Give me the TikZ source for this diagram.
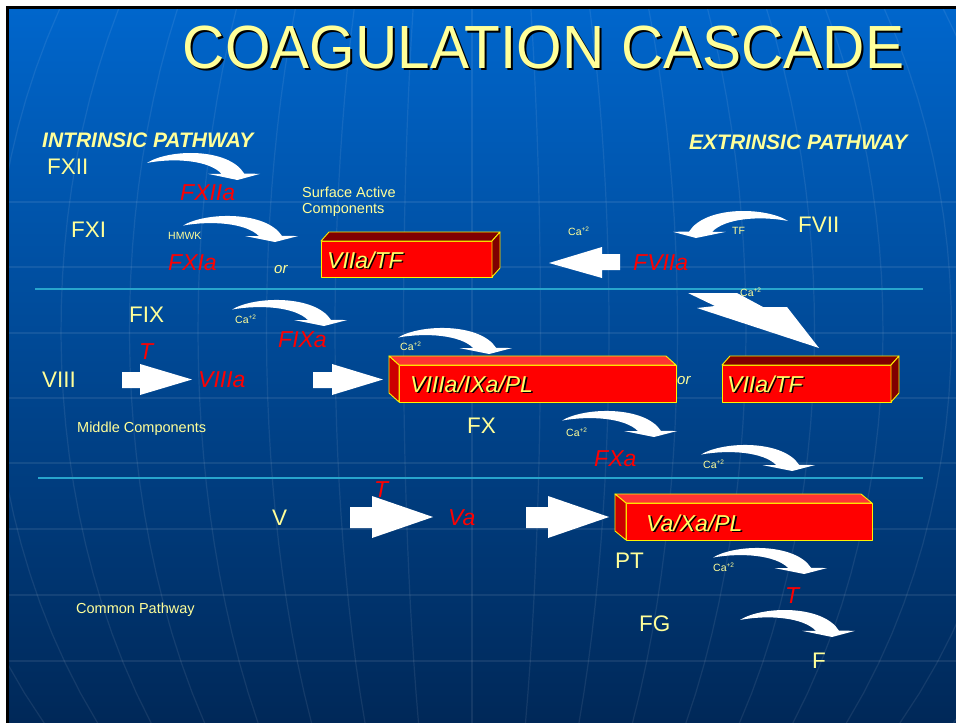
\documentclass[tikz,border=0pt]{standalone}
\usepackage{fontspec}
\setmainfont{Liberation Sans}
\definecolor{ylw}{RGB}{255,255,153}
\definecolor{rd}{RGB}{255,0,0}
\definecolor{boxtxt}{RGB}{255,255,102}
\definecolor{maroonc}{RGB}{128,0,0}
\definecolor{lightred}{RGB}{255,51,51}
\definecolor{sidered}{RGB}{204,0,0}
\definecolor{cyanln}{RGB}{40,165,205}
\definecolor{bgtop}{RGB}{0,102,204}
\definecolor{bgmid}{RGB}{0,72,148}
\definecolor{bgbot}{RGB}{0,40,88}
\newcommand\cion{Ca\raisebox{0.55ex}{\fontsize{6.5}{7}\selectfont +2}}
\newcommand\carr[4]{\begin{scope}[shift={(#1,#2)},xscale=#3,yscale=#4]
  \fill[white] (0,0.39) .. controls (0.2,-0.12) and (0.72,-0.15) .. (0.86,0.77) -- (1,0.78) -- (0.8,1) -- (0.54,0.78) -- (0.66,0.78) .. controls (0.55,0.3) and (0.25,0.2) .. cycle;
\end{scope}}
\tikzset{
  lbl/.style={anchor=base west, inner sep=0, text=ylw, font=\fontsize{22.5}{26}\selectfont},
  act/.style={anchor=base west, inner sep=0, text=rd, font=\fontsize{23}{27}\selectfont\itshape},
  smalltxt/.style={anchor=base west, inner sep=0, text=ylw, font=\fontsize{14.5}{17}\selectfont},
  ion/.style={anchor=base west, inner sep=0, text=ylw, font=\fontsize{10.5}{12}\selectfont},
  ortxt/.style={anchor=base west, inner sep=0, text=ylw, font=\fontsize{15}{17}\selectfont\itshape},
  pathw/.style={anchor=base west, inner sep=0, text=ylw, font=\fontsize{21}{25}\selectfont\bfseries\itshape},
  boxlbl/.style={anchor=base west, inner sep=0, font=\fontsize{23}{27}\selectfont\itshape},
  titletxt/.style={inner sep=0, xscale=0.96, font=\fontsize{61}{70}\selectfont},
  gridln/.style={white, opacity=0.08, line width=1.2pt},
  boxedge/.style={draw=yellow, line width=0.9pt, line join=round},
  blockarr/.style={fill=white},
}
\newcommand\boxtext[4]{%
  \node[boxlbl, text=black] at (#2+1.6,#3+1.6) {#4};
  \node[boxlbl, text=boxtxt] (#1) at (#2,#3) {#4};}
\begin{document}
\begin{tikzpicture}[x=1pt,y=-1pt]
\useasboundingbox (0,0) rectangle (956,723);
% background
\fill[white] (0,0) rectangle (956,723);
\fill[black] (6,6) rectangle (956,723);
\shade[top color=bgtop, middle color=bgmid, bottom color=bgbot] (9,9) rectangle (956,723);
\begin{scope}
  \clip (9,9) rectangle (956,723);
  \foreach \yy in {202,267,333,398,463,529,595,661}
    \draw[gridln] (9,\yy) -- (956,\yy);
  \foreach \k in {-9,...,9}
    \draw[gridln] plot[domain=9:723, samples=25, variable=\t] ({472+\k*68.5*sqrt(1-((\t-330)/629)^2)},\t);
\end{scope}
\draw[cyanln, line width=1.5pt] (35,289) -- (923,289);
\draw[cyanln, line width=1.5pt] (38,478) -- (923,478);

% title
\node[titletxt, text=black] at (545.5,49.5) {COAGULATION CASCADE};
\node[titletxt, text=ylw] (title) at (543.5,47.5) {COAGULATION CASCADE};

% headings
\node[pathw] (intr) at (42,147) {INTRINSIC PATHWAY};
\node[pathw] (extr) at (689,149.5) {EXTRINSIC PATHWAY};

% curved arrows
\carr{147}{152}{113}{28}
\carr{183}{215}{115}{27}
\carr{232}{299}{115}{27}
\carr{398}{327}{114}{27}
\carr{562}{410}{115}{27}
\carr{701}{444}{114}{27}
\carr{713}{547}{114}{27}
\carr{740}{609}{115}{28}
\carr{788}{210}{-115}{28}

% block arrows
\fill[blockarr] (620,254) -- (602,254) -- (602,247) -- (549,263) -- (602,278) -- (602,270) -- (620,270) -- cycle;
\fill[blockarr] (688,293) -- (737,293) -- (763,307) -- (787,307) -- (819,348) -- (697,308) -- (715,306) -- cycle;
\fill[blockarr] (122,372) -- (140,372) -- (140,364) -- (192,379.5) -- (140,395) -- (140,388) -- (122,388) -- cycle;
\fill[blockarr] (313,372) -- (332,372) -- (332,364) -- (383,379.5) -- (332,395) -- (332,388) -- (313,388) -- cycle;
\fill[blockarr] (350,507) -- (372,507) -- (372,496) -- (433,517) -- (372,538) -- (372,528) -- (350,528) -- cycle;
\fill[blockarr] (526,507) -- (548,507) -- (548,496) -- (609,517) -- (548,538) -- (548,528) -- (526,528) -- cycle;

% red boxes
% box 1 VIIa/TF
\fill[rd, boxedge] (321,241) rectangle (492,277);
\fill[maroonc, boxedge] (321,241) -- (329,232) -- (500,232) -- (492,241) -- cycle;
\fill[maroonc, boxedge] (492,241) -- (500,232) -- (500,268) -- (492,277) -- cycle;
\boxtext{b1}{327}{268}{VIIa/TF}
% box 2 VIIa/TF
\fill[rd, boxedge] (722,365) rectangle (891,402);
\fill[maroonc, boxedge] (722,365) -- (730,356) -- (899,356) -- (891,365) -- cycle;
\fill[maroonc, boxedge] (891,365) -- (899,356) -- (899,393) -- (891,402) -- cycle;
\boxtext{b2}{727}{392}{VIIa/TF}
% box 3 VIIIa/IXa/PL
\fill[rd, boxedge] (399,365) rectangle (676,402);
\fill[lightred, boxedge] (399,365) -- (389,356) -- (666,356) -- (676,365) -- cycle;
\fill[sidered, boxedge] (399,365) -- (389,356) -- (389,393) -- (399,402) -- cycle;
\boxtext{b3}{410}{392}{VIIIa/IXa/PL}
% box 4 Va/Xa/PL
\fill[rd, boxedge] (626,503) rectangle (872,540);
\fill[lightred, boxedge] (626,503) -- (615,494) -- (861,494) -- (872,503) -- cycle;
\fill[sidered, boxedge] (626,503) -- (615,494) -- (615,531) -- (626,540) -- cycle;
\boxtext{b4}{646}{531}{Va/Xa/PL}

% labels
\node[lbl] (fxii) at (47,174) {FXII};
\node[act] (fxiia) at (180,200) {FXIIa};
\node[smalltxt] (sac1) at (302,197) {Surface Active};
\node[smalltxt] (sac2) at (302,213) {Components};
\node[lbl] (fxi) at (71,237) {FXI};
\node[ion] (hmwk) at (168,239) {HMWK};
\node[act] (fxia) at (168,270) {FXIa};
\node[ortxt] (or1) at (274,273) {or};
\node[ion] (ca1) at (568,235) {\cion};
\node[ion] (tf) at (732,234) {TF};
\node[lbl] (fvii) at (798,232) {FVII};
\node[act] (fviia) at (633,270) {FVIIa};
\node[ion] (ca2) at (740,296) {\cion};
\node[lbl] (fix) at (129,322) {FIX};
\node[ion] (ca3) at (235,323) {\cion};
\node[act] (fixa) at (278,347) {FIXa};
\node[act] (t1) at (139,359) {T};
\node[ion] (ca4) at (400,350) {\cion};
\node[lbl] (viii) at (42,387) {VIII};
\node[act] (viiia) at (198,387) {VIIIa};
\node[ortxt] (or2) at (677,384) {or};
\node[smalltxt] (mid) at (77,432) {Middle Components};
\node[lbl] (fx) at (467,433) {FX};
\node[ion] (ca5) at (566,436) {\cion};
\node[act] (fxa) at (594,466) {FXa};
\node[ion] (ca6) at (703,468) {\cion};
\node[act] (t2) at (374,497) {T};
\node[lbl] (v) at (272,525) {V};
\node[act] (va) at (448,525) {Va};
\node[lbl] (pt) at (615,568) {PT};
\node[ion] (ca7) at (713,571) {\cion};
\node[act] (t3) at (785,603) {T};
\node[smalltxt] (common) at (76,613) {Common Pathway};
\node[lbl] (fg) at (639,631) {FG};
\node[lbl] (f) at (812,668) {F};
\end{tikzpicture}
\end{document}
